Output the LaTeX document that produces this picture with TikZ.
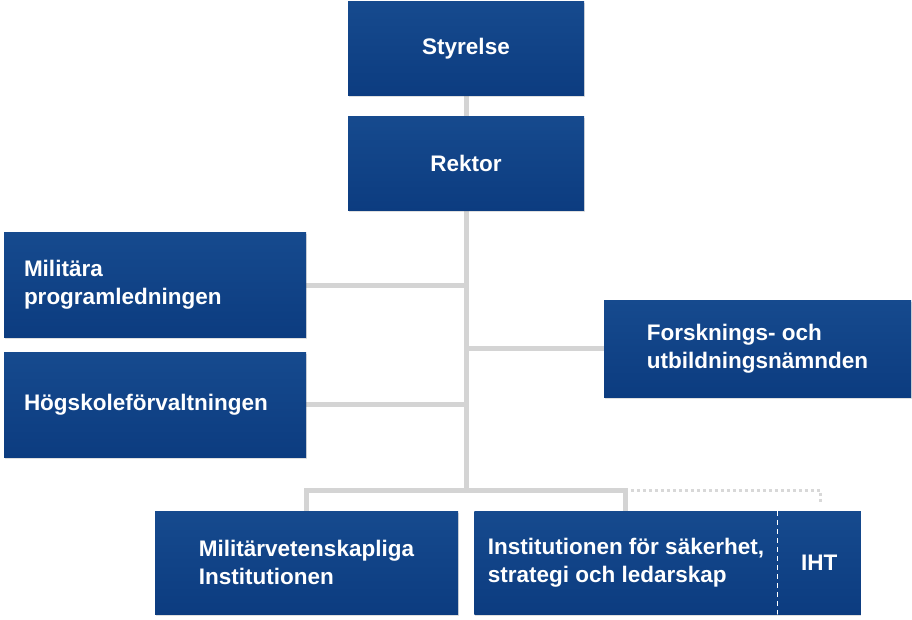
\documentclass[tikz,border=0pt]{standalone}
\usepackage{fontspec}
\setmainfont{Liberation Sans}
\usetikzlibrary{positioning, shadows, backgrounds, calc}
\definecolor{fhsblue}{RGB}{12,60,128}
\definecolor{fhstop}{RGB}{22,74,142}
\definecolor{linkgray}{RGB}{212,212,212}

\begin{document}
\begin{tikzpicture}[
    x=1pt, y=1pt,
    box/.style={rectangle, inner sep=0pt, top color=fhstop, bottom color=fhsblue, text=white, align=left,
        font=\fontsize{22.5}{28}\selectfont\bfseries,
        drop shadow={opacity=0.25, shadow xshift=0.5pt, shadow yshift=-1.5pt}},
    leftbox/.style={box, inner xsep=20pt, text width=262pt, minimum height=104pt},
    link/.style={line width=5pt, linkgray},
    dotlink/.style={line width=3pt, linkgray!90, dash pattern=on 3pt off 3pt},
    divider/.style={white, line width=1.5pt, dash pattern=on 5pt off 4pt}
]
    \useasboundingbox (0,0) rectangle (912,-620);

    \node[box, minimum width=236pt, minimum height=94pt] (styrelse) at (466,-49) {Styrelse};
    \node[box, minimum width=236pt, minimum height=94pt, below=20pt of styrelse] (rektor) {Rektor};
    \node[leftbox] (milprog) at (155,-285) {Militära\\programledningen};
    \node[leftbox, minimum height=105pt, below=15pt of milprog] (hogsk) {Högskoleförvaltningen};
    \node[box, minimum width=307pt, minimum height=97pt] (fun) at (757.5,-348.5) {Forsknings- och\\utbildningsnämnden};
    \node[box, minimum width=303pt, minimum height=103pt] (milvet) at (306.5,-562.5) {Militärvetenskapliga\\Institutionen};
    \node[box, minimum width=303pt, minimum height=103pt, right=16pt of milvet] (isl) {Institutionen för säkerhet,\\strategi och ledarskap};
    \node[box, minimum width=83pt, minimum height=103pt, right=0pt of isl] (iht) {IHT};
    \draw[divider] (isl.north east) -- (isl.south east);

    \coordinate (bus) at (466,-490);
    \coordinate (dotend) at (820,-503);

    \begin{scope}[on background layer]
        \draw[link] (styrelse) -- (rektor);
        \draw[link] (rektor) -- (bus);
        \draw[link] (milprog.east) -- (milprog.east -| bus);
        \draw[link] (hogsk.east) -- (hogsk.east -| bus);
        \draw[link] (fun.west) -- (fun.west -| bus);
        \draw[link] (milvet.north) |- (bus) -| (isl.north);
        \draw[dotlink] ($(bus -| isl.north)+(5,0)$) -| (dotend);
    \end{scope}
\end{tikzpicture}
\end{document}
